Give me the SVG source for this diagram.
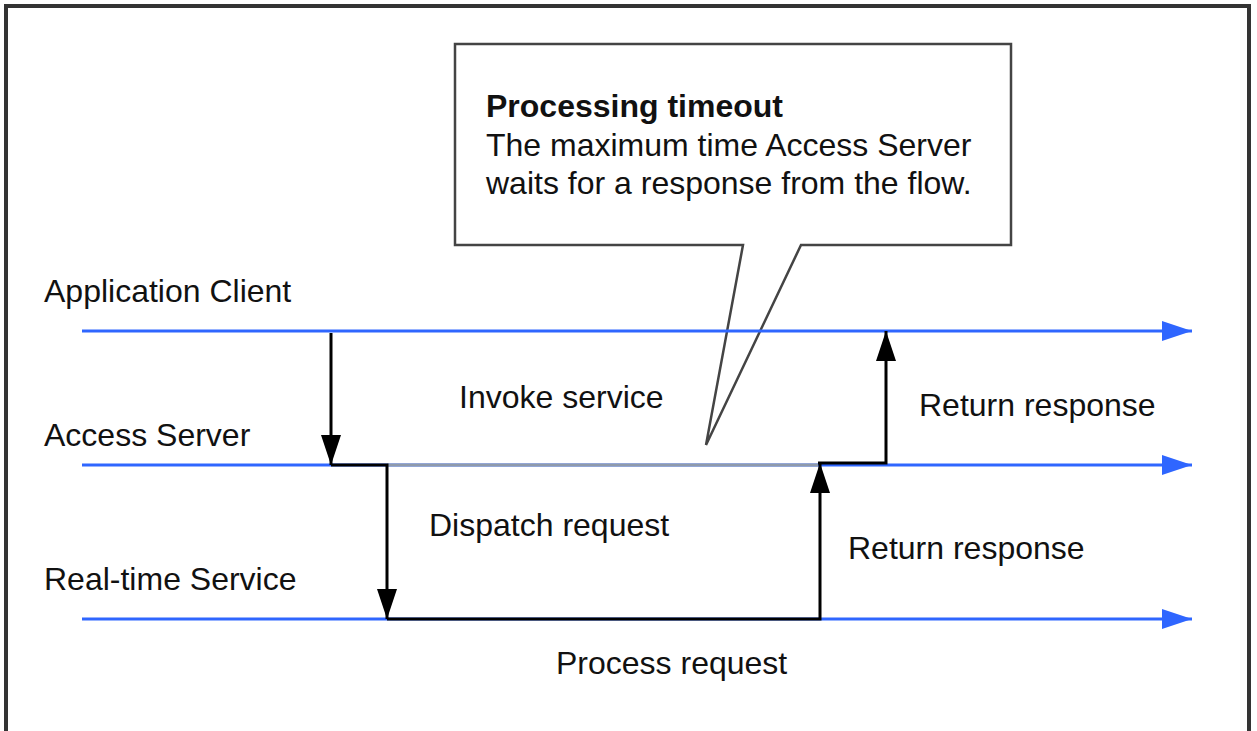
<svg xmlns="http://www.w3.org/2000/svg" width="1257" height="731" viewBox="0 0 1257 731">
  <style>
    .lbl { font-family: "Liberation Sans", Arial, sans-serif; font-size: 32px; fill: #111; }
    .bold { font-weight: bold; }
    .life { stroke: #2f66ff; stroke-width: 3; fill: none; }
    .flow { stroke: #000; stroke-width: 3; fill: none; }
  </style>
  <defs>
    <marker id="blueArrow" markerUnits="userSpaceOnUse" markerWidth="30" markerHeight="20" refX="30" refY="10" orient="auto">
      <path d="M0,0 L30,10 L0,20 Z" fill="#2f66ff"/>
    </marker>
    <marker id="blackArrow" markerUnits="userSpaceOnUse" markerWidth="30" markerHeight="20" refX="30" refY="10" orient="auto">
      <path d="M0,0 L30,10 L0,20 Z" fill="#000"/>
    </marker>
  </defs>

  <rect x="0" y="0" width="1257" height="731" fill="#fff"/>
  <rect x="6" y="6" width="1243" height="727" fill="#fff" stroke="#333" stroke-width="4"/>

  <g id="callout">
    <path d="M455,44 H1011 V245 H801 L706,445 L743,245 H455 Z" fill="none" stroke="#444" stroke-width="2.5" stroke-linejoin="miter"/>
    <text class="lbl bold" x="486" y="117">Processing timeout</text>
    <text class="lbl" x="486" y="156">The maximum time Access Server</text>
    <text class="lbl" x="486" y="194">waits for a response from the flow.</text>
  </g>

  <g id="lifelines">
    <g id="app-client">
      <line class="life" x1="82" y1="331" x2="1192" y2="331" marker-end="url(#blueArrow)"/>
      <text class="lbl" x="44" y="302">Application Client</text>
    </g>
    <g id="access-server">
      <line class="life" x1="82" y1="465" x2="1192" y2="465" marker-end="url(#blueArrow)"/>
      <text class="lbl" x="44" y="446">Access Server</text>
    </g>
    <g id="realtime-service">
      <line class="life" x1="82" y1="619" x2="1192" y2="619" marker-end="url(#blueArrow)"/>
      <text class="lbl" x="44" y="590">Real-time Service</text>
    </g>
  </g>

  <g id="connectors">
    <line x1="387" y1="465" x2="818" y2="465" stroke="#8f9aab" stroke-width="3"/>
    <path class="flow" d="M331,333 V465" marker-end="url(#blackArrow)"/>
    <path class="flow" d="M331,465 H387 V619" marker-end="url(#blackArrow)"/>
    <path class="flow" d="M387,619 H820 V463" marker-end="url(#blackArrow)"/>
    <path class="flow" d="M818,463 H886 V331" marker-end="url(#blackArrow)"/>
  </g>

  <g id="labels">
    <text class="lbl" x="459" y="408">Invoke service</text>
    <text class="lbl" x="919" y="416">Return response</text>
    <text class="lbl" x="429" y="536">Dispatch request</text>
    <text class="lbl" x="848" y="559">Return response</text>
    <text class="lbl" x="556" y="674">Process request</text>
  </g>
</svg>
